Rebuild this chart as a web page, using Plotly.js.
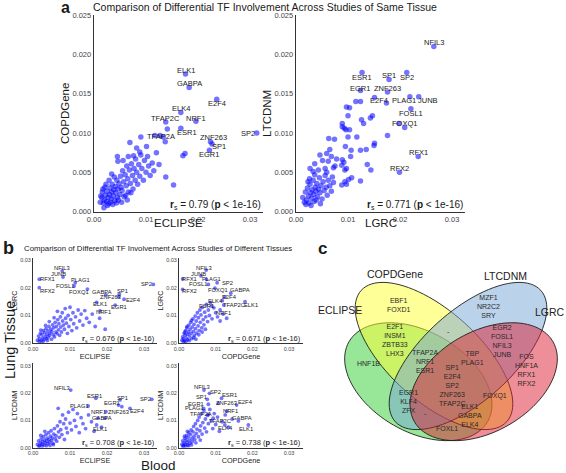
<!DOCTYPE html>
<html><head><meta charset="utf-8">
<script src="https://cdn.plot.ly/plotly-3.0.1.min.js"></script>
<style>html,body{margin:0;padding:0;background:#fff}#chart{width:566px;height:473px}</style>
</head><body><div id="chart"></div>
<script>
// ================= DATA =================
// Panel a (left): ECLIPSE vs COPDGene
const aL_eclipse = [0.0012,0.0015,0.0018,0.0020,0.0022,0.0024,0.0025,0.0027,0.0028,0.0030,0.0031,0.0033,0.0034,0.0035,0.0037,0.0038,0.0040,0.0041,0.0042,0.0044,0.0045,0.0046,0.0048,0.0050,0.0051,0.0052,0.0054,0.0055,0.0057,0.0058,0.0060,0.0062,0.0063,0.0065,0.0066,0.0068,0.0070,0.0072,0.0074,0.0075,0.0077,0.0079,0.0080,0.0082,0.0084,0.0086,0.0088,0.0090,0.0092,0.0095,0.0097,0.0100,0.0103,0.0105,0.0108,0.0112,0.0115,0.0120,0.0125,0.0138,0.0153,0.0101,0.0069,0.0090,0.0117,0.0127,0.0133,0.0141,0.0175,0.0171,0.0045,0.0066,0.0046,0.0082,0.0088,0.0016,0.0021,0.0026,0.0032,0.0036,0.0043,0.0019,0.0023,0.0029,0.0039,0.0047,0.0053,0.0061,0.0013,0.0017,0.0034,0.0056,0.0064,0.0071,0.0076];
const aL_copd = [0.0012,0.0018,0.0011,0.0015,0.0021,0.0013,0.0026,0.0018,0.0010,0.0022,0.0030,0.0016,0.0025,0.0035,0.0020,0.0028,0.0014,0.0032,0.0024,0.0040,0.0018,0.0029,0.0036,0.0022,0.0045,0.0031,0.0027,0.0052,0.0038,0.0019,0.0047,0.0033,0.0058,0.0042,0.0025,0.0053,0.0036,0.0061,0.0046,0.0029,0.0055,0.0040,0.0067,0.0050,0.0035,0.0060,0.0045,0.0072,0.0055,0.0040,0.0065,0.0050,0.0070,0.0058,0.0046,0.0062,0.0052,0.0075,0.0060,0.0044,0.0034,0.0083,0.0088,0.0095,0.0097,0.0097,0.0095,0.0105,0.0074,0.0071,0.0070,0.0070,0.0064,0.0081,0.0076,0.0025,0.0031,0.0008,0.0012,0.0009,0.0011,0.0005,0.0035,0.0040,0.0044,0.0015,0.0012,0.0021,0.0020,0.0029,0.0048,0.0065,0.0015,0.0024,0.0071];
const aL_tf = ['ELK1','GABPA','E2F4','ELK4','TFAP2C','NRF1','ESR1','TFAP2A','ZNF263','SP1','EGR1','SP2'];
const aL_tf_eclipse = [0.0176,0.0183,0.0236,0.0167,0.0138,0.0196,0.0167,0.0137,0.0224,0.0227,0.0222,0.0313];
const aL_tf_copd = [0.0175,0.0158,0.0143,0.0126,0.0114,0.0115,0.0106,0.0089,0.0089,0.0086,0.0078,0.0100];

// Panel a (right): LGRC vs LTCDNM
const aR_lgrc = [0.0115,0.0124,0.0097,0.0103,0.0147,0.0143,0.0100,0.0126,0.0130,0.0089,0.0089,0.0093,0.0096,0.0103,0.0176,0.0100,0.0117,0.0063,0.0074,0.0151,0.0150,0.0135,0.0124,0.0106,0.0095,0.0065,0.0046,0.0059,0.0068,0.0105,0.0089,0.0092,0.0036,0.0051,0.0062,0.0078,0.0088,0.0137,0.0144,0.0027,0.0033,0.0043,0.0056,0.0059,0.0072,0.0075,0.0094,0.0097,0.0124,0.0101,0.0107,0.0094,0.0097,0.0088,0.0174,0.0209,0.0013,0.0016,0.0018,0.0020,0.0022,0.0024,0.0025,0.0027,0.0028,0.0030,0.0031,0.0033,0.0034,0.0035,0.0037,0.0038,0.0040,0.0041,0.0043,0.0045,0.0046,0.0048,0.0050,0.0052,0.0054,0.0056,0.0058,0.0060,0.0062,0.0065,0.0068,0.0070,0.0072,0.0019,0.0026,0.0036,0.0029,0.0023,0.0039,0.0047];
const aR_ltcdnm = [0.0140,0.0140,0.0133,0.0132,0.0122,0.0119,0.0122,0.0117,0.0112,0.0112,0.0108,0.0106,0.0104,0.0104,0.0097,0.0095,0.0095,0.0093,0.0092,0.0087,0.0084,0.0079,0.0078,0.0078,0.0083,0.0079,0.0072,0.0074,0.0070,0.0070,0.0066,0.0063,0.0061,0.0065,0.0064,0.0067,0.0059,0.0060,0.0053,0.0055,0.0051,0.0053,0.0055,0.0050,0.0056,0.0058,0.0053,0.0055,0.0039,0.0041,0.0043,0.0038,0.0035,0.0034,0.0138,0.0107,0.0018,0.0012,0.0025,0.0015,0.0030,0.0020,0.0011,0.0035,0.0024,0.0017,0.0028,0.0040,0.0022,0.0013,0.0031,0.0026,0.0036,0.0019,0.0029,0.0043,0.0024,0.0033,0.0016,0.0038,0.0027,0.0046,0.0031,0.0021,0.0040,0.0033,0.0026,0.0044,0.0037,0.0009,0.0042,0.0047,0.0008,0.0038,0.0015,0.0010];
const aR_tf = ['NFIL3','ESR1','SP1','SP2','EGR1','ZNF263','E2F4','PLAG1','JUNB','FOSL1','FOXQ1','RFX1','RFX2'];
const aR_tf_lgrc = [0.0265,0.0127,0.0179,0.0213,0.0124,0.0176,0.0151,0.0219,0.0236,0.0221,0.0198,0.0235,0.0199];
const aR_tf_ltcdnm = [0.0210,0.0177,0.0168,0.0177,0.0154,0.0152,0.0145,0.0146,0.0146,0.0131,0.0112,0.0070,0.0050];

// Panel b top-left: ECLIPSE vs LGRC
const bTL_eclipse = [0.0012,0.0015,0.0018,0.0020,0.0022,0.0024,0.0026,0.0028,0.0030,0.0031,0.0033,0.0035,0.0036,0.0038,0.0040,0.0041,0.0043,0.0045,0.0046,0.0048,0.0050,0.0051,0.0053,0.0055,0.0056,0.0058,0.0060,0.0062,0.0063,0.0065,0.0067,0.0069,0.0070,0.0072,0.0074,0.0075,0.0077,0.0079,0.0080,0.0082,0.0085,0.0087,0.0088,0.0090,0.0093,0.0095,0.0097,0.0100,0.0102,0.0105,0.0108,0.0110,0.0115,0.0118,0.0122,0.0126,0.0130,0.0135,0.0140,0.0145,0.0152,0.0160,0.0168,0.0180,0.0195,0.0017,0.0027,0.0039,0.0021,0.0034,0.0044,0.0057,0.0066];
const bTL_lgrc = [0.0010,0.0025,0.0015,0.0035,0.0008,0.0030,0.0018,0.0045,0.0012,0.0038,0.0024,0.0052,0.0016,0.0032,0.0044,0.0021,0.0060,0.0028,0.0036,0.0050,0.0014,0.0042,0.0066,0.0030,0.0055,0.0022,0.0075,0.0040,0.0060,0.0034,0.0085,0.0048,0.0070,0.0028,0.0095,0.0058,0.0040,0.0110,0.0080,0.0065,0.0050,0.0125,0.0090,0.0072,0.0035,0.0100,0.0060,0.0130,0.0085,0.0045,0.0110,0.0070,0.0095,0.0055,0.0120,0.0080,0.0105,0.0065,0.0118,0.0090,0.0075,0.0105,0.0060,0.0090,0.0050,0.0005,0.0006,0.0009,0.0047,0.0064,0.0078,0.0092,0.0115];
const bTL_tf = ['NFIL3','JUNB','RFX1','PLAG1','FOSL1','RFX2','FOXQ1','GABPA','SP1','ZNF263','E2F4','ELK1','EGR1','NRF1','SP2'];
const bTL_tf_eclipse = [0.0079,0.0081,0.0017,0.0114,0.0111,0.0017,0.0147,0.0197,0.0233,0.0231,0.0246,0.0172,0.0222,0.0181,0.0325];
const bTL_tf_lgrc = [0.0262,0.0240,0.0232,0.0219,0.0207,0.0201,0.0196,0.0175,0.0177,0.0168,0.0159,0.0148,0.0138,0.0117,0.0213];

// Panel b top-right: COPDGene vs LGRC
const bTR_copd = [0.0008,0.0010,0.0012,0.0014,0.0015,0.0017,0.0018,0.0020,0.0021,0.0023,0.0024,0.0026,0.0027,0.0029,0.0030,0.0032,0.0033,0.0035,0.0036,0.0038,0.0039,0.0041,0.0042,0.0044,0.0045,0.0047,0.0048,0.0050,0.0052,0.0053,0.0055,0.0057,0.0058,0.0060,0.0062,0.0064,0.0066,0.0068,0.0070,0.0073,0.0075,0.0078,0.0080,0.0083,0.0086,0.0090,0.0095,0.0100,0.0105,0.0112,0.0120,0.0130,0.0012,0.0019,0.0028,0.0016,0.0022,0.0034,0.0040,0.0046,0.0054,0.0063,0.0072];
const bTR_lgrc = [0.0010,0.0022,0.0015,0.0035,0.0008,0.0028,0.0045,0.0018,0.0055,0.0032,0.0012,0.0040,0.0065,0.0025,0.0050,0.0075,0.0035,0.0016,0.0058,0.0088,0.0042,0.0068,0.0028,0.0098,0.0052,0.0080,0.0036,0.0110,0.0062,0.0092,0.0045,0.0120,0.0075,0.0102,0.0055,0.0130,0.0085,0.0066,0.0112,0.0095,0.0140,0.0078,0.0120,0.0100,0.0148,0.0088,0.0128,0.0110,0.0095,0.0080,0.0105,0.0090,0.0005,0.0006,0.0009,0.0040,0.0060,0.0082,0.0020,0.0014,0.0030,0.0040,0.0050];
const bTR_tf = ['NFIL3','JUNB','RFX1','PLAG1','FOSL1','SP2','RFX2','FOXQ1','GABPA','E2F4','ELK4','TFAP2C','ELK1','ESR1','NRF1'];
const bTR_tf_copd = [0.0074,0.0060,0.0010,0.0075,0.0080,0.0104,0.0010,0.0098,0.0141,0.0125,0.0118,0.0122,0.0180,0.0089,0.0112];
const bTR_tf_lgrc = [0.0265,0.0244,0.0233,0.0231,0.0213,0.0219,0.0195,0.0199,0.0181,0.0168,0.0154,0.0138,0.0150,0.0135,0.0120];

// Panel b bottom-left: ECLIPSE vs LTCDNM
const bBL_eclipse = [0.0012,0.0015,0.0018,0.0020,0.0022,0.0024,0.0026,0.0028,0.0030,0.0031,0.0033,0.0035,0.0037,0.0038,0.0040,0.0042,0.0043,0.0045,0.0047,0.0049,0.0050,0.0052,0.0054,0.0056,0.0058,0.0060,0.0062,0.0064,0.0066,0.0068,0.0069,0.0071,0.0073,0.0075,0.0078,0.0080,0.0083,0.0085,0.0088,0.0090,0.0093,0.0096,0.0100,0.0104,0.0108,0.0112,0.0116,0.0120,0.0125,0.0130,0.0135,0.0142,0.0150,0.0158,0.0165,0.0175,0.0185,0.0016,0.0025,0.0036,0.0021,0.0032,0.0046,0.0055];
const bBL_ltcdnm = [0.0012,0.0025,0.0008,0.0018,0.0032,0.0013,0.0022,0.0040,0.0010,0.0028,0.0018,0.0048,0.0024,0.0035,0.0014,0.0055,0.0030,0.0020,0.0042,0.0062,0.0027,0.0036,0.0016,0.0050,0.0070,0.0032,0.0044,0.0024,0.0080,0.0144,0.0058,0.0038,0.0095,0.0066,0.0048,0.0120,0.0088,0.0030,0.0105,0.0072,0.0055,0.0130,0.0090,0.0065,0.0140,0.0100,0.0078,0.0125,0.0055,0.0110,0.0088,0.0070,0.0120,0.0095,0.0060,0.0108,0.0075,0.0005,0.0006,0.0007,0.0045,0.0060,0.0008,0.0011];
const bBL_tf = ['NFIL3','ESR1','SP1','SP2','PLAG1','EGR1','ZNF263','E2F4','NRF1','GABPA','ELK1'];
const bBL_tf_eclipse = [0.0102,0.0170,0.0235,0.0321,0.0149,0.0231,0.0240,0.0262,0.0197,0.0195,0.0172];
const bBL_tf_ltcdnm = [0.0211,0.0181,0.0175,0.0177,0.0153,0.0156,0.0150,0.0144,0.0132,0.0108,0.0083];

// Panel b bottom-right: COPDGene vs LTCDNM
const bBR_copd = [0.0008,0.0010,0.0012,0.0014,0.0016,0.0017,0.0019,0.0021,0.0022,0.0024,0.0025,0.0027,0.0028,0.0030,0.0031,0.0033,0.0035,0.0036,0.0038,0.0040,0.0041,0.0043,0.0045,0.0047,0.0049,0.0051,0.0053,0.0055,0.0057,0.0059,0.0061,0.0063,0.0065,0.0068,0.0070,0.0072,0.0075,0.0078,0.0080,0.0084,0.0088,0.0092,0.0096,0.0100,0.0105,0.0110,0.0118,0.0126,0.0135,0.0145,0.0011,0.0018,0.0026,0.0015,0.0023,0.0034,0.0046,0.0058];
const bBR_ltcdnm = [0.0012,0.0025,0.0008,0.0018,0.0035,0.0012,0.0028,0.0045,0.0020,0.0010,0.0038,0.0055,0.0026,0.0016,0.0048,0.0065,0.0034,0.0022,0.0058,0.0078,0.0042,0.0030,0.0088,0.0052,0.0068,0.0100,0.0040,0.0112,0.0062,0.0080,0.0125,0.0050,0.0092,0.0136,0.0072,0.0105,0.0058,0.0118,0.0088,0.0140,0.0098,0.0070,0.0125,0.0085,0.0112,0.0060,0.0095,0.0120,0.0075,0.0105,0.0005,0.0006,0.0007,0.0042,0.0060,0.0010,0.0018,0.0028];
const bBR_tf = ['NFIL3','SP2','ESR1','SP1','E2F4','EGR1','ZNF263','PLAG1','NRF1','TFAP2A','TFAP2C','GABPA','ELK4','ELK1'];
const bBR_tf_copd = [0.0068,0.0083,0.0116,0.0077,0.0157,0.0080,0.0107,0.0067,0.0130,0.0080,0.0093,0.0162,0.0125,0.0189];
const bBR_tf_ltcdnm = [0.0211,0.0199,0.0181,0.0177,0.0156,0.0159,0.0162,0.0144,0.0134,0.0122,0.0108,0.0098,0.0083,0.0083];

// Spearman correlations per panel
const rsValues = ['0.79','0.771','0.676','0.671','0.708','0.738'];

// Venn diagram (panel c)
const vennSets = ['ECLIPSE','COPDGene','LTCDNM','LGRC'];
const vennRegions = [
  ['EBF1','FOXD1'], ['MZF1','NR2C2','SRY'], ['E2F1','INSM1','ZBTB33','LHX3'], ['-'],
  ['EGR2','FOSL1','NFIL3','JUNB'], ['HNF1B'], ['TFAP2A','NRF1','ESR1'], ['TBP','PLAG1'],
  ['FOS','HNF1A','RFX1','RFX2'], ['SP1','E2F4','SP2','ZNF263','TFAP2C'], ['EGR1','KLF4','ZFX'],
  ['FOXQ1'], ['-'], ['ELK1','GABPA','ELK4'], ['FOXL1']
];

// ================= LAYOUT / STYLE =================
const W = 566, H = 473;
const FONT = 'Liberation Sans, Arial, Helvetica, sans-serif';
const fx = p => p / W;
const fy = p => 1 - p / H;

// label offsets (px, screen: +dy = down)
const shifts = {
  aL: {dx:[0,0,0,0,0,0,6,-4,3,7,0,-9], dy:[-4,-4,4,-4,-4,-3,4,-5,-4,2,4,0]},
  aR: {dx:[0,0,0,0,0,0,4,-6,9,0,6,0,0], dy:[-4,5,-4,5,-2,-4,3,4,4,5,0,-4,-4]},
  bTL:{dx:[0,-4,8,5,-9,8,-8,-4,3,-8,9,3,4,3,-7], dy:[-3,-3,0,-3,0,3,3,-3,-3,0,1,2,2,1,0]},
  bTR:{dx:[-2,-3,7,5,-10,10,7,3,9,5,-7,10,6,-5,3], dy:[-2,-2,0,0,0,0,2,2,-3,0,0,0,3,0,3]},
  bBL:{dx:[-9,-1,3,-6,-9,-7,-3,8,-7,-3,3], dy:[-2,-2,-2,0,0,-2,5,3,0,0,4]},
  bBR:{dx:[-2,6,8,-6,9,-12,8,-9,4,-7,7,4,1,-2], dy:[-3,-1,-3,-2,-3,0,0,0,0,0,3,-3,3,4]}
};

// xtA: x-title drawn as annotation at given pixel position (panel a); otherwise axis title
const panels = [
  {k:'aL', x:aL_eclipse, y:aL_copd, tf:aL_tf, tx:aL_tf_eclipse, ty:aL_tf_copd, xd:[94,263], yd:[15,211.7], xr:[0,0.0325], yr:[0,0.025], ydt:0.005, yfmt:'.3f', tfs:7.5, ms:5.5, lfs:7.5, rs:10, rsY:205.5, xt:'ECLIPSE', yt:'COPDGene', tfz:11.5, lw:1.3, xso:0, yso:0, xtA:[178.5,223]},
  {k:'aR', x:aR_lgrc, y:aR_ltcdnm, tf:aR_tf, tx:aR_tf_lgrc, ty:aR_tf_ltcdnm, xd:[296,465], yd:[15,211.7], xr:[0,0.0325], yr:[0,0.025], ydt:0.005, yfmt:'.3f', tfs:7.5, ms:5.5, lfs:7.5, rs:10, rsY:205.5, xt:'LGRC', yt:'LTCDNM', tfz:11.5, lw:1.3, xso:0, yso:0, xtA:[380.5,223]},
  {k:'bTL', x:bTL_eclipse, y:bTL_lgrc, tf:bTL_tf, tx:bTL_tf_eclipse, ty:bTL_tf_lgrc, xd:[33,157], yd:[258,343], xr:[0,0.0335], yr:[0,0.0309], ydt:0.01, yfmt:'.2f', tfs:5.5, ms:3.8, lfs:5.8, rs:7.5, rsY:338.5, xt:'ECLIPSE', yt:'LGRC', tfz:7.2, lw:1, xso:0, yso:1},
  {k:'bTR', x:bTR_copd, y:bTR_lgrc, tf:bTR_tf, tx:bTR_tf_copd, ty:bTR_tf_lgrc, xd:[179,303], yd:[258,343], xr:[0,0.0338], yr:[0,0.0309], ydt:0.01, yfmt:'.2f', tfs:5.5, ms:3.8, lfs:5.8, rs:7.5, rsY:338.5, xt:'COPDGene', yt:'LGRC', tfz:7.2, lw:1, xso:0, yso:1},
  {k:'bBL', x:bBL_eclipse, y:bBL_ltcdnm, tf:bBL_tf, tx:bBL_tf_eclipse, ty:bBL_tf_ltcdnm, xd:[33,157], yd:[363,447.7], xr:[0,0.0335], yr:[0,0.031], ydt:0.01, yfmt:'.2f', tfs:5.5, ms:3.8, lfs:5.8, rs:7.5, rsY:443, xt:'ECLIPSE', yt:'LTCDNM', tfz:7.2, lw:1, xso:0, yso:1},
  {k:'bBR', x:bBR_copd, y:bBR_ltcdnm, tf:bBR_tf, tx:bBR_tf_copd, ty:bBR_tf_ltcdnm, xd:[179,303], yd:[363,447.7], xr:[0,0.0338], yr:[0,0.031], ydt:0.01, yfmt:'.2f', tfs:5.5, ms:3.8, lfs:5.8, rs:7.5, rsY:443, xt:'COPDGene', yt:'LTCDNM', tfz:7.2, lw:1, xso:0, yso:1}
];

const traces = [];
const annotations = [];
const layout = {
  width: W, height: H, margin: {l:0, r:0, t:0, b:0},
  paper_bgcolor: '#fff', plot_bgcolor: 'rgba(0,0,0,0)',
  showlegend: false, font: {family: FONT, color: '#222'},
  annotations: annotations, shapes: []
};

function txt(text, px, py, size, opts) {
  annotations.push(Object.assign({
    text: text, xref: 'paper', yref: 'paper', x: fx(px), y: fy(py),
    xanchor: 'center', yanchor: 'middle', showarrow: false,
    font: {family: FONT, size: size, color: '#1a1a1a'}
  }, opts || {}));
}

panels.forEach((p, i) => {
  const n = i + 1;
  const xr = n === 1 ? 'x' : 'x' + n, yr = n === 1 ? 'y' : 'y' + n;
  const xk = n === 1 ? 'xaxis' : 'xaxis' + n, yk = n === 1 ? 'yaxis' : 'yaxis' + n;
  const mk = {size: p.ms, color: '#0000ff', opacity: 0.55, line: {width: 0}};
  traces.push({type:'scatter', mode:'markers', x:p.x, y:p.y, xaxis:xr, yaxis:yr, marker:mk, hoverinfo:'skip'});
  traces.push({type:'scatter', mode:'markers', x:p.tx, y:p.ty, xaxis:xr, yaxis:yr, marker:mk, hoverinfo:'skip'});
  layout[xk] = {domain:[fx(p.xd[0]), fx(p.xd[1])], range:p.xr, anchor:yr, showgrid:false, zeroline:false,
    showline:true, linecolor:'#333', linewidth:p.lw, ticks:'', dtick:0.01, tick0:0, tickformat:'.2f',
    tickfont:{family:FONT, size:p.tfs, color:'#444'}, fixedrange:true};
  if (p.xtA) {
    txt(p.xt, p.xtA[0], p.xtA[1], p.tfz);
  } else {
    layout[xk].title = {text:p.xt, standoff:p.xso, font:{family:FONT, size:p.tfz, color:'#1a1a1a'}};
  }
  layout[yk] = {domain:[fy(p.yd[1]), fy(p.yd[0])], range:p.yr, anchor:xr, showgrid:false, zeroline:false,
    showline:true, linecolor:'#333', linewidth:p.lw, ticks:'', dtick:p.ydt, tick0:0, tickformat:p.yfmt,
    tickfont:{family:FONT, size:p.tfs, color:'#444'}, fixedrange:true,
    title:{text:p.yt, standoff:p.yso, font:{family:FONT, size:p.tfz, color:'#1a1a1a'}}};
  // TF labels
  const sh = shifts[p.k];
  p.tf.forEach((name, j) => {
    annotations.push({text:name, xref:xr, yref:yr, x:p.tx[j], y:p.ty[j], showarrow:false,
      xshift:sh.dx[j], yshift:-sh.dy[j], xanchor:'center', yanchor:'middle',
      font:{family:FONT, size:p.lfs, color:'#1a1a1a'}});
  });
  // r_s annotation
  txt('<b>r</b><sub>s</sub> = ' + rsValues[i] + ' (<b>p</b> &lt; 1e-16)', p.xd[1], p.rsY, p.rs, {xanchor:'right'});
});

// Panel letters, titles
txt('<b>a</b>', 65, 8, 16);
txt('Comparison of Differential TF Involvement Across Studies of Same Tissue', 264.5, 7.5, 10.5);
txt('<b>b</b>', 8, 248, 18);
txt('Comparison of Differential TF Involvement Across Studies of Different Tissues', 158, 248, 7.8);
txt('Lung Tissue', 10, 340, 14.5, {textangle:-90});
txt('Blood', 158, 465, 13.5);
txt('<b>c</b>', 323, 248, 17);

// ================= VENN (panel c) =================
function ellipsePath(cx, cy, A, B, deg) {
  const t = deg * Math.PI / 180, c = Math.cos(t), s = Math.sin(t);
  let d = '';
  for (let k = 0; k <= 96; k++) {
    const a = 2 * Math.PI * k / 96;
    const u = A * Math.cos(a), v = B * Math.sin(a);
    const px = cx + u * c - v * s, py = cy + u * s + v * c;
    d += (k === 0 ? 'M' : 'L') + fx(px).toFixed(5) + ',' + fy(py).toFixed(5);
  }
  return d + 'Z';
}
const axisX = 451;
const vennEllipses = [
  {c:[418.3, 381.7], A:80, B:50, deg:30, fill:'rgba(50,205,50,0.5)'},      // ECLIPSE
  {c:[434, 356], A:98, B:45, deg:42, fill:'rgba(255,255,50,0.5)'},           // COPDGene
  {c:[2*axisX-434, 356], A:98, B:45, deg:-42, fill:'rgba(120,165,215,0.5)'}, // LTCDNM
  {c:[2*axisX-418.3, 381.7], A:80, B:50, deg:-30, fill:'rgba(220,30,50,0.5)'} // LGRC
];
vennEllipses.forEach(e => {
  layout.shapes.push({type:'path', xref:'paper', yref:'paper', path:ellipsePath(e.c[0], e.c[1], e.A, e.B, e.deg),
    fillcolor:e.fill, line:{color:'rgba(30,30,30,0.9)', width:1}});
});
const vennSetPos = [[340,310],[395,274],[505,276],[550,312]];
vennSets.forEach((s, i) => txt(s, vennSetPos[i][0], vennSetPos[i][1], 10.5, {font:{family:FONT, size:10.5, color:'#222'}}));
const vennRegionPos = [[398.3,305],[488.3,306.7],[395,340],[448.3,331.7],[501.7,341],[368.3,363.3],[425,361.7],[472.7,358.3],[526,370],[451.7,385],[408.3,401.7],[495,395.7],[425,413.3],[470,415.7],[446.7,428.3]];
vennRegions.forEach((r, i) => txt(r.join('<br>'), vennRegionPos[i][0], vennRegionPos[i][1], 7, {font:{family:FONT, size:7, color:'#2a2a2a'}}));

Plotly.newPlot('chart', traces, layout, {staticPlot:true, displayModeBar:false});
</script>
</body></html>
